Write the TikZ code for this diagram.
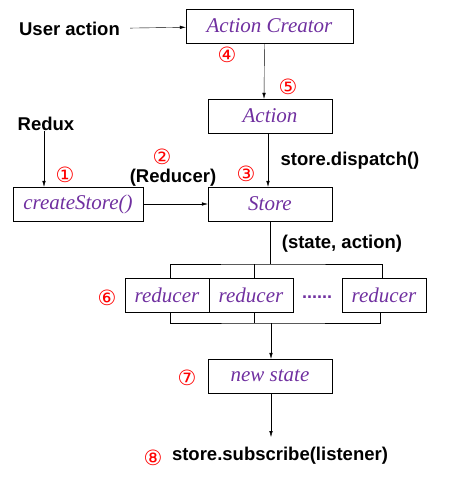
\documentclass[tikz,border=0pt]{standalone}
\usepackage{fontspec}
\setmainfont{Liberation Sans}
\newfontfamily\handfont{Liberation Serif}
\newfontfamily\numfont{DejaVu Sans}
\usetikzlibrary{arrows.meta}

\definecolor{boxpurple}{RGB}{112,48,160}

\tikzset{
  box/.style={draw, minimum height=34pt, inner sep=0pt, text=boxpurple,
    font=\handfont\itshape\fontsize{21}{23}\selectfont},
  tagtext/.style={font=\bfseries\fontsize{18.5}{21}\selectfont, inner sep=0pt},
  num/.style={text=red, inner sep=0pt, font=\numfont\fontsize{21}{22}\selectfont},
  flow/.style={-{Latex[length=6pt,width=3.5pt]}}
}

\begin{document}
\begin{tikzpicture}[x=1pt, y=-1pt]

    % frame
    \useasboundingbox (0,0) rectangle (450,500);

    % boxes
    \node[box, minimum width=167pt] (creator) at (269.5,26) {Action Creator};
    \node[box, minimum width=124pt] (action) at (270,116) {Action};
    \node[box, minimum width=130pt] (create) at (78,204) {createStore()};
    \node[box, minimum width=124pt] (store) at (270,204) {Store};
    \node[box, minimum width=84pt] (red1) at (167,295) {reducer};
    \node[box, minimum width=84pt] (red2) at (251,295) {reducer};
    \node[box, minimum width=84pt] (red3) at (384,295) {reducer};
    \node[text=boxpurple, font=\bfseries\fontsize{18}{20}\selectfont] (dots) at (317,297) {......};
    \node[box, minimum width=124pt] (newstate) at (270,376) {new state};

    % texts
    \node[tagtext] (user) at (69.5,29) {User action};
    \node[tagtext] (redux) at (46,124) {Redux};
    \node[tagtext] (reducer) at (173,178) {(Reducer)};
    \node[tagtext] (dispatch) at (350,161) {store.dispatch()};
    \node[tagtext] (stateaction) at (342,244) {(state, action)};
    \node[tagtext] (subscribe) at (280,456) {store.subscribe(listener)};

    % steps
    \node[num] (n1) at (65,175) {①};
    \node[num] (n2) at (162,157) {②};
    \node[num] (n3) at (246,174) {③};
    \node[num] (n4) at (227,55) {④};
    \node[num] (n5) at (288,87) {⑤};
    \node[num] (n6) at (107,298) {⑥};
    \node[num] (n7) at (187,378) {⑦};
    \node[num] (n8) at (153,458) {⑧};

    % junctions
    \coordinate (split) at (270,264);
    \coordinate (merge) at (271,323);
    \coordinate (listener) at (271,437);

    % flow
    \draw[flow, shorten <=10pt] (user) -- (creator);
    \draw[flow] ([xshift=-5pt]creator.south) -- ([xshift=-6pt]action.north);
    \draw[flow] ([xshift=-2pt]redux.south) -- ([xshift=-2pt]redux.south |- create.north);
    \draw[flow] (create) -- (store);
    \draw[flow] ([xshift=-2pt]action.south) -- ([xshift=-2pt]store.north);

    % fan out to reducers
    \draw (store.south) -- (split);
    \draw ([xshift=3pt]red1.north) |- (split) -| ([xshift=-2pt]red3.north);
    \draw ([xshift=3pt]red2.north) -- ([xshift=3pt]red2.north |- split);

    % fan in to new state
    \draw ([xshift=3pt]red1.south) |- (merge) -| ([xshift=-4pt]red3.south);
    \draw ([xshift=3pt]red2.south) -- ([xshift=3pt]red2.south |- merge);
    \draw[flow] (merge) -- (merge |- newstate.north);
    \draw[flow] (merge |- newstate.south) -- (listener);

\end{tikzpicture}
\end{document}
